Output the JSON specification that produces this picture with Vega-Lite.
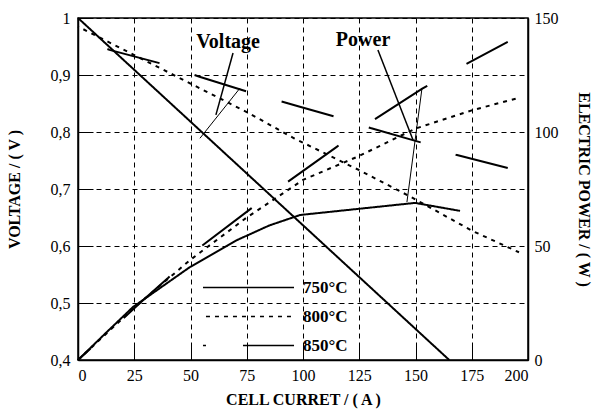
{
  "$schema": "https://vega.github.io/schema/vega-lite/v6.json",
  "width": 450,
  "height": 342,
  "autosize": {"type": "none"},
  "padding": {"left": 78, "top": 18, "right": 68, "bottom": 50},
  "config": {
    "font": "Liberation Serif",
    "view": {"stroke": "black", "strokeWidth": 1.5},
    "axis": {
      "labelFont": "Liberation Serif", "labelFontSize": 16, "labelColor": "black",
      "titleFont": "Liberation Serif", "titleColor": "black", "titleFontSize": 16, "titleFontWeight": "bold",
      "domainColor": "black", "domainWidth": 1.5, "tickColor": "black", "tickWidth": 1,
      "gridColor": "black", "gridDash": [5, 4], "gridOpacity": 1, "gridWidth": 1
    }
  },
  "datasets": {
    "voltage": [
      {"temp": "750°C", "I": 0, "V": 1.0},
      {"temp": "750°C", "I": 165, "V": 0.4},
      {"temp": "800°C", "I": 0, "V": 0.985},
      {"temp": "800°C", "I": 25, "V": 0.935},
      {"temp": "800°C", "I": 50, "V": 0.885},
      {"temp": "800°C", "I": 75, "V": 0.835},
      {"temp": "800°C", "I": 96, "V": 0.789},
      {"temp": "800°C", "I": 125, "V": 0.733},
      {"temp": "800°C", "I": 148, "V": 0.686},
      {"temp": "800°C", "I": 175, "V": 0.627},
      {"temp": "800°C", "I": 196, "V": 0.589},
      {"temp": "850°C", "I": 0, "V": 0.975},
      {"temp": "850°C", "I": 8, "V": 0.954},
      {"temp": "850°C", "I": 14, "V": 0.944},
      {"temp": "850°C", "I": 39, "V": 0.918},
      {"temp": "850°C", "I": 54, "V": 0.897},
      {"temp": "850°C", "I": 76, "V": 0.870},
      {"temp": "850°C", "I": 99, "V": 0.844},
      {"temp": "850°C", "I": 115, "V": 0.826},
      {"temp": "850°C", "I": 130, "V": 0.807},
      {"temp": "850°C", "I": 153, "V": 0.781},
      {"temp": "850°C", "I": 168, "V": 0.760},
      {"temp": "850°C", "I": 191, "V": 0.737}
    ],
    "power": [
      {"temp": "750°C", "I": 0, "P": 0},
      {"temp": "750°C", "I": 12, "P": 11.5},
      {"temp": "750°C", "I": 24.4, "P": 23.2},
      {"temp": "750°C", "I": 49.8, "P": 40.8},
      {"temp": "750°C", "I": 70.7, "P": 52.6},
      {"temp": "750°C", "I": 85, "P": 59},
      {"temp": "750°C", "I": 98.7, "P": 63.6},
      {"temp": "750°C", "I": 149.8, "P": 68.9},
      {"temp": "750°C", "I": 169.8, "P": 65.4},
      {"temp": "800°C", "I": 0, "P": 0},
      {"temp": "800°C", "I": 25, "P": 23},
      {"temp": "800°C", "I": 50, "P": 44},
      {"temp": "800°C", "I": 75, "P": 62.5},
      {"temp": "800°C", "I": 100, "P": 79},
      {"temp": "800°C", "I": 125, "P": 89.5},
      {"temp": "800°C", "I": 150, "P": 101.5},
      {"temp": "800°C", "I": 175, "P": 109.5},
      {"temp": "800°C", "I": 196, "P": 115},
      {"temp": "850°C", "I": 0, "P": 0},
      {"temp": "850°C", "I": 15, "P": 13.5},
      {"temp": "850°C", "I": 29, "P": 26.3},
      {"temp": "850°C", "I": 40, "P": 36},
      {"temp": "850°C", "I": 55, "P": 50},
      {"temp": "850°C", "I": 77, "P": 66.5},
      {"temp": "850°C", "I": 93, "P": 78},
      {"temp": "850°C", "I": 115, "P": 93.5},
      {"temp": "850°C", "I": 131, "P": 105},
      {"temp": "850°C", "I": 153, "P": 119},
      {"temp": "850°C", "I": 169, "P": 128},
      {"temp": "850°C", "I": 191, "P": 139.5}
    ]
  },
  "layer": [
    {
      "layer": [
        {
          "data": {"name": "voltage"},
          "mark": {"type": "line", "color": "black", "strokeWidth": 2, "strokeDashOffset": 57},
          "encoding": {
            "x": {
              "field": "I", "type": "quantitative",
              "scale": {"domain": [0, 200], "nice": false},
              "axis": {
                "title": "CELL CURRET / ( A )", "values": [0, 25, 50, 75, 100, 125, 150, 175, 200],
                "grid": true, "tickSize": -15, "labelPadding": 22, "titlePadding": 8
              }
            },
            "y": {
              "field": "V", "type": "quantitative",
              "scale": {"domain": [0.4, 1], "nice": false, "zero": false},
              "axis": {
                "orient": "left", "title": "VOLTAGE / ( V )", "values": [0.4, 0.5, 0.6, 0.7, 0.8, 0.9, 1],
                "labelExpr": "datum.value == 1 ? '1' : replace(format(datum.value, '.1f'), '.', ',')",
                "grid": true, "tickSize": -15, "labelPadding": 23, "titlePadding": 28
              }
            },
            "strokeDash": {
              "field": "temp", "type": "nominal",
              "scale": {"domain": ["750°C", "800°C", "850°C"], "range": [[1, 0], [4, 5], [54, 37]]},
              "legend": {
                "orient": "none", "legendX": 158, "legendY": 257, "title": null,
                "symbolType": "M-4,0H4", "symbolSize": 518, "symbolStrokeWidth": 1.5,
                "symbolStrokeColor": "black", "symbolDashOffset": 51,
                "labelFont": "Liberation Serif", "labelFontSize": 17, "labelFontWeight": "bold",
                "labelColor": "black", "labelOffset": 42, "rowPadding": 8, "padding": 0
              }
            }
          }
        },
        {
          "data": {"values": [{"I": 68.9, "V": 0.9386, "I2": 61.3, "V2": 0.830}]},
          "mark": {"type": "rule", "color": "black", "strokeWidth": 1.5},
          "encoding": {
            "x": {"field": "I", "type": "quantitative"},
            "y": {"field": "V", "type": "quantitative"},
            "x2": {"field": "I2"},
            "y2": {"field": "V2"}
          }
        },
        {
          "data": {"values": [{"I": 54.2, "V": 0.789, "I2": 72, "V2": 0.877}]},
          "mark": {"type": "rule", "color": "black", "strokeWidth": 1},
          "encoding": {
            "x": {"field": "I", "type": "quantitative"},
            "y": {"field": "V", "type": "quantitative"},
            "x2": {"field": "I2"},
            "y2": {"field": "V2"}
          }
        },
        {
          "data": {"values": [{"I": 66.7, "V": 0.958, "label": "Voltage"}]},
          "mark": {"type": "text", "font": "Liberation Serif", "fontSize": 20, "fontWeight": "bold", "color": "black", "baseline": "middle", "align": "center"},
          "encoding": {
            "x": {"field": "I", "type": "quantitative"},
            "y": {"field": "V", "type": "quantitative"},
            "text": {"field": "label"}
          }
        }
      ]
    },
    {
      "layer": [
        {
          "data": {"name": "power"},
          "mark": {"type": "line", "color": "black", "strokeWidth": 2, "strokeDashOffset": 45},
          "encoding": {
            "x": {"field": "I", "type": "quantitative"},
            "y": {
              "field": "P", "type": "quantitative",
              "scale": {"domain": [0, 150], "nice": false},
              "axis": {
                "orient": "right", "title": "ELECTRIC POWER / ( W )", "values": [0, 50, 100, 150],
                "grid": false, "ticks": false, "labelPadding": 6, "titlePadding": 17
              }
            },
            "strokeDash": {
              "field": "temp", "type": "nominal",
              "scale": {"domain": ["750°C", "800°C", "850°C"], "range": [[1, 0], [4, 5], [62, 45]]},
              "legend": null
            }
          }
        },
        {
          "data": {"values": [{"I": 133.3, "P": 136, "I2": 148.9, "P2": 96.5}]},
          "mark": {"type": "rule", "color": "black", "strokeWidth": 1.5},
          "encoding": {
            "x": {"field": "I", "type": "quantitative"},
            "y": {"field": "P", "type": "quantitative"},
            "x2": {"field": "I2"},
            "y2": {"field": "P2"}
          }
        },
        {
          "data": {"values": [{"I": 146.2, "P": 69.3, "I2": 152.9, "P2": 119.3}]},
          "mark": {"type": "rule", "color": "black", "strokeWidth": 1},
          "encoding": {
            "x": {"field": "I", "type": "quantitative"},
            "y": {"field": "P", "type": "quantitative"},
            "x2": {"field": "I2"},
            "y2": {"field": "P2"}
          }
        },
        {
          "data": {"values": [{"I": 126.7, "P": 140.4, "label": "Power"}]},
          "mark": {"type": "text", "font": "Liberation Serif", "fontSize": 20, "fontWeight": "bold", "color": "black", "baseline": "middle", "align": "center"},
          "encoding": {
            "x": {"field": "I", "type": "quantitative"},
            "y": {"field": "P", "type": "quantitative"},
            "text": {"field": "label"}
          }
        }
      ]
    }
  ],
  "resolve": {"scale": {"y": "independent", "strokeDash": "independent"}}
}
